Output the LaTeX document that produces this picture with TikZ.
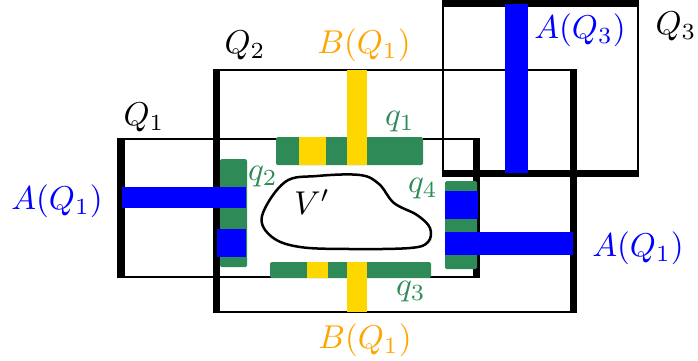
\documentclass[tikz,border=0pt]{standalone}
\definecolor{qgreen}{RGB}{46,139,87}
\definecolor{qyellow}{RGB}{255,215,0}
\definecolor{qorange}{RGB}{255,165,0}
\definecolor{qblue}{RGB}{0,0,255}
\begin{document}
\begin{tikzpicture}[x=1pt,y=-1pt,
  thinbox/.style={line width=2pt, draw=black},
  thickedge/.style={line width=7pt, draw=black},
  greenbar/.style={fill=qgreen, rounded corners=1.5pt},
  yellowbar/.style={fill=qyellow},
  bluebar/.style={fill=qblue},
  lbl/.style={font=\fontsize{10}{12}\selectfont, scale=3.3, inner sep=0pt, anchor=center}]
\useasboundingbox (0,0) rectangle (698,360);
% boxes
\draw[thinbox] (118,139) rectangle (476,277);
\draw[thinbox] (216,70) rectangle (573,312);
\draw[thinbox] (443,4) rectangle (638,173);
\draw[thickedge] (121,138) -- (121,278);
\draw[thickedge] (476.5,138) -- (476.5,278);
\draw[thickedge] (216.5,69) -- (216.5,313);
\draw[thickedge] (573.5,69) -- (573.5,313);
\draw[thickedge] (442,3.5) -- (639,3.5);
\draw[thickedge] (442,173.5) -- (639,173.5);
% region V'
\draw[line width=2.5pt] plot[smooth cycle, tension=0.6] coordinates {
  (262,216) (285,182) (317,176) (360,175) (379,184) (394,203)
  (417,215) (430,228) (428,242) (410,248) (350,249) (300,247) (272,237)};
% green bars
\fill[greenbar] (276,137) rectangle (423,165);
\fill[greenbar] (270,262) rectangle (431,278);
\fill[greenbar] (220,159) rectangle (247,267);
\fill[greenbar] (445,181) rectangle (477,269);
% yellow
\fill[yellowbar] (299,137) rectangle (326,165);
\fill[yellowbar] (347,70) rectangle (367,165);
\fill[yellowbar] (307,262) rectangle (328,278);
\fill[yellowbar] (347,262) rectangle (367,312);
% blue
\fill[bluebar] (122,187) rectangle (246,208);
\fill[bluebar] (217,229) rectangle (246,257);
\fill[bluebar] (445,232) rectangle (573,255);
\fill[bluebar] (445,191) rectangle (478,219);
\fill[bluebar] (505,4) rectangle (528,173);
% labels
\node[lbl] (lq1) at (144,117) {$Q_1$};
\node[lbl] (lq2) at (245,45) {$Q_2$};
\node[lbl] (lq3) at (676,26) {$Q_3$};
\node[lbl, text=qorange] (btop) at (364,45) {$B(Q_1)$};
\node[lbl, text=qorange] (bbot) at (365,340) {$B(Q_1)$};
\node[lbl, text=qblue] (aq3) at (580,30) {$A(Q_3)$};
\node[lbl, text=qblue] (aleft) at (57,201) {$A(Q_1)$};
\node[lbl, text=qblue] (aright) at (638,248) {$A(Q_1)$};
\node[lbl, text=qgreen] (sq1) at (400,122) {$q_1$};
\node[lbl, text=qgreen] (sq2) at (263,177) {$q_2$};
\node[lbl, text=qgreen] (sq3) at (411,292) {$q_3$};
\node[lbl, text=qgreen] (sq4) at (423,189) {$q_4$};
\node[lbl] (vp) at (312,202) {$V'$};
\end{tikzpicture}
\end{document}
